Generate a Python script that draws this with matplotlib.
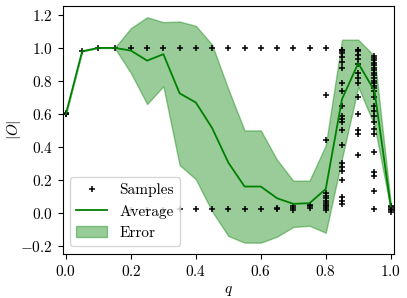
import matplotlib
matplotlib.use("Agg")
import matplotlib.pyplot as plt
import numpy as np

plt.rcParams["font.family"] = "serif"
plt.rcParams["font.serif"] = ["cmr10"]
plt.rcParams["mathtext.fontset"] = "cm"
plt.rcParams["axes.formatter.use_mathtext"] = True
plt.rcParams["font.size"] = 11

# control parameter
q = [0.0, 0.05, 0.1, 0.15, 0.2, 0.25, 0.3, 0.35, 0.4, 0.45, 0.5,
     0.55, 0.6, 0.65, 0.7, 0.75, 0.8, 0.85, 0.9, 0.95, 1.0]

# mean of |O| over samples
average = [0.60, 0.98, 1.0, 1.0, 0.984, 0.923, 0.962, 0.725, 0.669, 0.515, 0.305,
           0.16, 0.16, 0.089, 0.055, 0.059, 0.145, 0.69, 0.907, 0.74, 0.04]

# standard deviation (shaded band)
error = [0.0, 0.0, 0.0, 0.0, 0.136, 0.263, 0.194, 0.435, 0.465, 0.505, 0.445,
         0.34, 0.34, 0.233, 0.14, 0.137, 0.265, 0.36, 0.143, 0.21, 0.02]

# distinct sample values at each q
samples = [
    [0.6, 0.605, 0.597],
    [0.98],
    [1.0],
    [1.0],
    [1.0, 0.02],
    [1.0, 0.02],
    [1.0, 0.02],
    [1.0, 0.025],
    [1.0, 0.025],
    [1.0, 0.025],
    [1.0, 0.025],
    [1.0, 0.025],
    [1.0, 0.025],
    [1.0, 0.025, 0.03],
    [1.0, 0.02, 0.03, 0.04],
    [1.0, 0.03, 0.04, 0.05],
    [1.0, 0.715, 0.44, 0.12, 0.105, 0.09, 0.07, 0.06, 0.05, 0.04, 0.03, 0.02],
    [0.99, 0.985, 0.98, 0.97, 0.945, 0.915, 0.88, 0.79, 0.74, 0.65, 0.59, 0.57,
     0.55, 0.5, 0.41, 0.30, 0.28, 0.255, 0.2, 0.095, 0.075, 0.055],
    [0.99, 0.985, 0.98, 0.96, 0.935, 0.905, 0.85, 0.82, 0.79, 0.70, 0.60, 0.50,
     0.48, 0.35],
    [0.95, 0.94, 0.925, 0.91, 0.895, 0.88, 0.865, 0.85, 0.835, 0.82, 0.80, 0.785,
     0.77, 0.755, 0.74, 0.70, 0.65, 0.62, 0.59, 0.55, 0.51, 0.48, 0.37, 0.25,
     0.225, 0.13, 0.025],
    [0.045, 0.035, 0.025, 0.015, 0.005],
]

sx = [qi for qi, vals in zip(q, samples) for _ in vals]
sy = [v for vals in samples for v in vals]

avg = np.array(average)
err = np.array(error)

fig = plt.figure(figsize=(4.07, 2.98), dpi=100)
ax = fig.add_axes([0.154, 0.148, 0.814, 0.832])

ax.plot(sx, sy, "+", color="black", markersize=5, markeredgewidth=1.1,
        label="Samples", zorder=3)
ax.plot(q, avg, color="green", linewidth=1.3, label="Average", zorder=4)
ax.fill_between(q, avg - err, avg + err, color="green", alpha=0.4,
                label="Error", zorder=2)

ax.set_xlim(-0.01, 1.01)
ax.set_xlabel(r"$q$")
ax.set_ylabel(r"$|O|$")
ax.yaxis.set_label_coords(-0.12, 0.5)
ax.legend(loc="lower left")

fig.savefig("out.png", dpi=100)
